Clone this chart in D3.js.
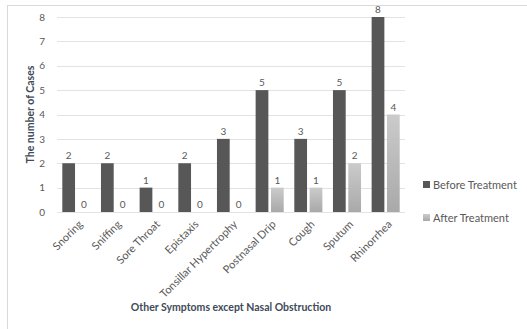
<!DOCTYPE html>
<html>
<head>
<meta charset="utf-8">
<script src="https://cdn.jsdelivr.net/npm/d3@7"></script>
<style>
  html, body { margin: 0; padding: 0; background: #fff; }
  svg { display: block; font-family: Lato, "Liberation Sans", sans-serif; }
</style>
</head>
<body>
<svg id="chart" width="527" height="329"></svg>
<script>
// Symptom categories and case counts
const categories = ["Snoring", "Sniffing", "Sore Throat", "Epistaxis", "Tonsillar Hypertrophy",
  "Postnasal Drip", "Cough", "Sputum", "Rhinorrhea"];
const beforeTreatment = [2, 2, 1, 2, 3, 5, 3, 5, 8];
const afterTreatment = [0, 0, 0, 0, 0, 1, 1, 2, 4];
const seriesNames = ["Before Treatment", "After Treatment"];
const yTicks = [0, 1, 2, 3, 4, 5, 6, 7, 8];

const svg = d3.select("#chart");
const margin = { left: 57, right: 122, top: 17, bottom: 117 };
const W = 527, H = 329;

// Chart frame
svg.append("rect")
  .attr("x", 7.5).attr("y", 5.5)
  .attr("width", W + 10).attr("height", H + 10)
  .attr("fill", "#fff").attr("stroke", "#d9d9d9");

const x = d3.scaleBand().domain(categories).range([margin.left, W - margin.right]);
const y = d3.scaleLinear().domain([0, 8]).range([H - margin.bottom, margin.top]);

// Gradient for the after-treatment bars
const defs = svg.append("defs");
const grad = defs.append("linearGradient").attr("id", "afterGrad")
  .attr("x1", 0).attr("y1", 0).attr("x2", 0).attr("y2", 1);
grad.append("stop").attr("offset", "0%").attr("stop-color", "#cbcbcb");
grad.append("stop").attr("offset", "100%").attr("stop-color", "#a9a9a9");

// Gridlines
svg.append("g").selectAll("line").data(yTicks).join("line")
  .attr("x1", margin.left).attr("x2", W - margin.right)
  .attr("y1", d => Math.round(y(d)) + 0.5).attr("y2", d => Math.round(y(d)) + 0.5)
  .attr("stroke", "#e3e3e3").attr("stroke-width", 1);

// Y axis labels
const yAxis = d3.axisLeft(y).tickValues(yTicks).tickSize(0).tickPadding(0);
const yg = svg.append("g").attr("transform", `translate(45,0)`).call(yAxis);
yg.select(".domain").remove();
yg.selectAll("text").attr("fill", "#595959").attr("font-size", 10).attr("font-family", "Lato");

// Bars
const pad = 5.3, gap = 2.6;
const bw = (x.bandwidth() - 2 * pad - gap) / 2;

const groups = svg.append("g").selectAll("g").data(categories).join("g");

groups.append("rect")
  .attr("x", (d) => x(d) + pad)
  .attr("y", (d, i) => y(beforeTreatment[i]))
  .attr("width", bw)
  .attr("height", (d, i) => y(0) - y(beforeTreatment[i]))
  .attr("fill", "#575757");

groups.append("rect")
  .attr("x", (d) => x(d) + pad + bw + gap)
  .attr("y", (d, i) => y(afterTreatment[i]))
  .attr("width", bw)
  .attr("height", (d, i) => y(0) - y(afterTreatment[i]))
  .attr("fill", "url(#afterGrad)");

// Value labels
groups.append("text")
  .attr("x", (d) => x(d) + pad + bw / 2)
  .attr("y", (d, i) => y(beforeTreatment[i]) - 4)
  .attr("text-anchor", "middle")
  .attr("font-size", 10).attr("fill", "#595959")
  .text((d, i) => beforeTreatment[i]);

groups.append("text")
  .attr("x", (d) => x(d) + pad + bw + gap + bw / 2)
  .attr("y", (d, i) => y(afterTreatment[i]) - 4)
  .attr("text-anchor", "middle")
  .attr("font-size", 10).attr("fill", "#595959")
  .text((d, i) => afterTreatment[i]);

// X axis category labels, rotated
const xAxis = d3.axisBottom(x).tickSize(0).tickPadding(0);
const xg = svg.append("g").attr("transform", `translate(0,${y(0)})`).call(xAxis);
xg.select(".domain").remove();
xg.selectAll("text")
  .attr("font-size", 11).attr("fill", "#595959").attr("font-family", "Lato")
  .attr("text-anchor", "end")
  .attr("dy", "0")
  .attr("transform", "translate(7,13) rotate(-45)");

// Axis titles
svg.append("text")
  .attr("transform", `translate(34,${(y(0) + y(8)) / 2}) rotate(-90)`)
  .attr("text-anchor", "middle")
  .attr("font-size", 10.5).attr("font-weight", "bold").attr("fill", "#404a58")
  .text("The number of Cases");

svg.append("text")
  .attr("x", (margin.left + W - margin.right) / 2)
  .attr("y", 311)
  .attr("text-anchor", "middle")
  .attr("font-size", 10.5).attr("font-weight", "bold").attr("fill", "#404a58")
  .text("Other Symptoms except Nasal Obstruction");

// Legend
const legend = svg.append("g").selectAll("g").data(seriesNames).join("g")
  .attr("transform", (d, i) => `translate(423,${181 + i * 33})`);
legend.append("rect")
  .attr("width", 7).attr("height", 7)
  .attr("fill", (d, i) => i === 0 ? "#575757" : "url(#afterGrad)");
legend.append("text")
  .attr("x", 10).attr("y", 7.5)
  .attr("font-size", 11).attr("fill", "#595959")
  .text(d => d);
</script>
</body>
</html>
